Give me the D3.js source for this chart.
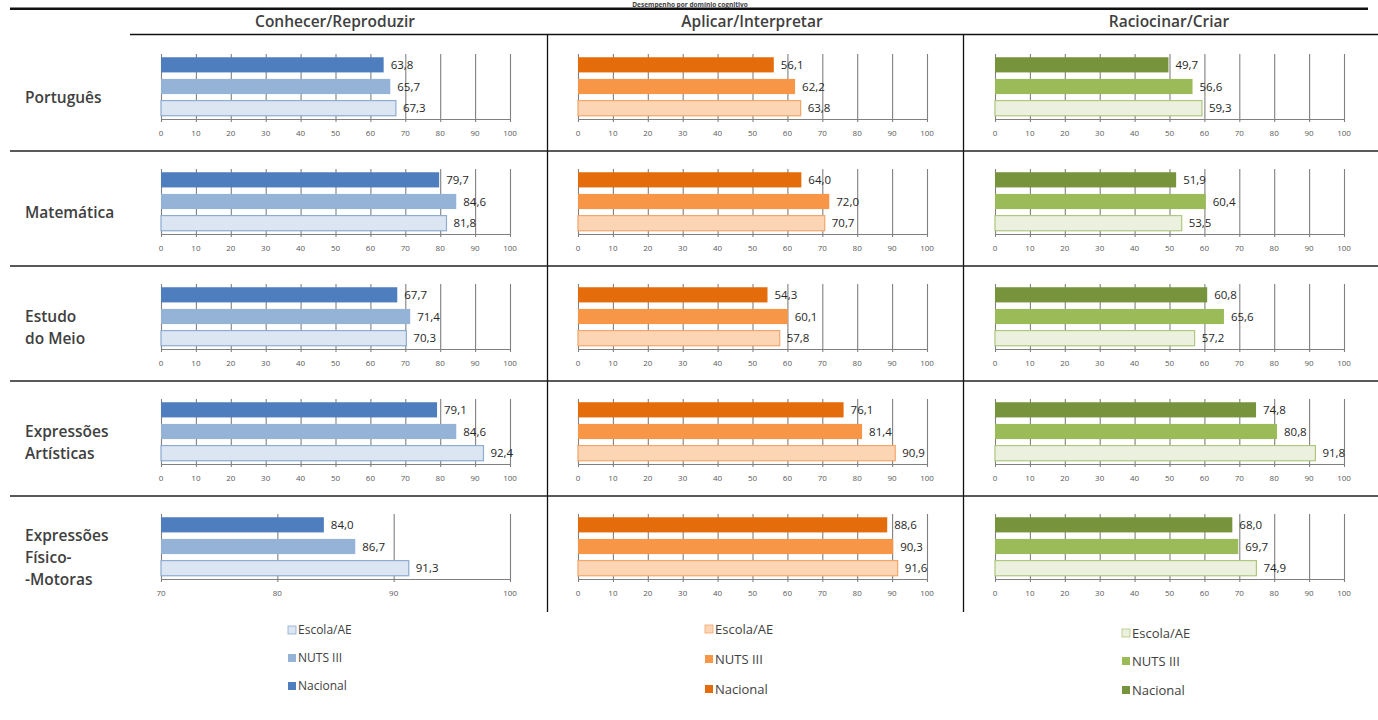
<!DOCTYPE html>
<html>
<head>
<meta charset="utf-8">
<script src="https://cdn.jsdelivr.net/npm/d3@7"></script>
<style>
  html, body { margin: 0; padding: 0; background: #ffffff; }
  svg { display: block; }
</style>
</head>
<body>
<script>
// ---------------- DATA ----------------
const title = "Desempenho por domínio cognitivo";
const domains = ["Conhecer/Reproduzir", "Aplicar/Interpretar", "Raciocinar/Criar"];
const subjects = ["Português", "Matemática", "Estudo do Meio", "Expressões Artísticas", "Expressões Físico-Motoras"];
const subjectLines = [["Português"], ["Matemática"], ["Estudo", "do Meio"], ["Expressões", "Artísticas"], ["Expressões", "Físico-", "-Motoras"]];
const seriesNames = ["Nacional", "NUTS III", "Escola/AE"];
const legendOrder = ["Escola/AE", "NUTS III", "Nacional"];

// values per subject: [Nacional, NUTS III, Escola/AE]
const conhecerValues = [[63.8, 65.7, 67.3], [79.7, 84.6, 81.8], [67.7, 71.4, 70.3], [79.1, 84.6, 92.4], [84.0, 86.7, 91.3]];
const aplicarValues  = [[56.1, 62.2, 63.8], [64.0, 72.0, 70.7], [54.3, 60.1, 57.8], [76.1, 81.4, 90.9], [88.6, 90.3, 91.6]];
const raciocinarValues = [[49.7, 56.6, 59.3], [51.9, 60.4, 53.5], [60.8, 65.6, 57.2], [74.8, 80.8, 91.8], [68.0, 69.7, 74.9]];
const allValues = [conhecerValues, aplicarValues, raciocinarValues];

const ticksFull = [0, 10, 20, 30, 40, 50, 60, 70, 80, 90, 100];
const ticksZoom = [70, 80, 90, 100];
// axis domain minimum per panel [domainIdx][subjectIdx]
const axisMin = [[0, 0, 0, 0, 70], [0, 0, 0, 0, 0], [0, 0, 0, 0, 0]];

// colours per domain: [Nacional, NUTS III, Escola/AE]
const palette = [
  ["#4F7EBF", "#95B3D7", "#DCE6F2"],
  ["#E46C0A", "#F79646", "#FCD5B5"],
  ["#77933C", "#9BBB59", "#EBF1DE"]
];
const borderEscola = ["#8EABD1", "#F2A66A", "#AFC77F"];

// ---------------- LAYOUT ----------------
const W = 1378, H = 720;
const svg = d3.select("body").append("svg").attr("width", W).attr("height", H);
const font = "'Open Sans', 'DejaVu Sans', sans-serif";

const colX0 = [161, 578, 995];
const plotW = 349;
const rowY0 = [0, 115, 230, 345, 460];

// title (sits just above the top rule)
svg.append("text").attr("x", 690).attr("y", 7).attr("text-anchor", "middle")
  .attr("font-family", font).attr("font-weight", "bold").attr("font-size", 6.5)
  .attr("fill", "#404040").text(title);

// thick top line
svg.append("line").attr("x1", 10).attr("x2", 1368).attr("y1", 8.8).attr("y2", 8.8)
  .attr("stroke", "#111").attr("stroke-width", 2.5);

// column headers
domains.forEach((d, i) => {
  svg.append("text").attr("x", colX0[i] + 174).attr("y", 27).attr("text-anchor", "middle")
    .attr("font-family", font).attr("font-weight", 600).attr("font-size", 15.5)
    .attr("fill", "#404040").text(d);
});
svg.append("line").attr("x1", 130).attr("x2", W).attr("y1", 34.5).attr("y2", 34.5)
  .attr("stroke", "#111").attr("stroke-width", 1.3);

// vertical dividers
[547.5, 963.5].forEach(x => {
  svg.append("line").attr("x1", x).attr("x2", x).attr("y1", 34).attr("y2", 612)
    .attr("stroke", "#111").attr("stroke-width", 1.3);
});

// row separators
[151, 266, 381, 496].forEach(y => {
  svg.append("line").attr("x1", 10).attr("x2", W).attr("y1", y).attr("y2", y)
    .attr("stroke", "#222").attr("stroke-width", 1.3);
});

// row labels
subjectLines.forEach((lines, r) => {
  const cy = rowY0[r] + 98;
  const lh = 22;
  const start = cy - (lines.length - 1) * lh / 2;
  lines.forEach((ln, k) => {
    svg.append("text").attr("x", 25).attr("y", start + k * lh).attr("dy", "0.35em")
      .attr("font-family", font).attr("font-weight", 600).attr("font-size", 15.5)
      .attr("fill", "#404040").text(ln);
  });
});

// panels
const fmt = v => d3.format(".1f")(v).replace(".", ",");
domains.forEach((dom, c) => {
  subjects.forEach((sub, r) => {
    const vals = allValues[c][r];
    const lo = axisMin[c][r];
    const ticks = lo === 0 ? ticksFull : ticksZoom;
    const x = d3.scaleLinear().domain([lo, 100]).range([colX0[c], colX0[c] + plotW]);
    const top = rowY0[r] + 54, axisY = rowY0[r] + 119;
    const y = d3.scaleBand().domain(seriesNames).range([top, axisY]).paddingInner(0.3).paddingOuter(0.15);
    const g = svg.append("g");

    // gridlines
    g.selectAll("line.grid").data(ticks).enter().append("line")
      .attr("x1", d => x(d) + 0.5).attr("x2", d => x(d) + 0.5)
      .attr("y1", top).attr("y2", axisY + 3)
      .attr("stroke", "#808080").attr("stroke-width", 1.1);

    // bars
    g.selectAll("rect").data(seriesNames).enter().append("rect")
      .attr("x", x(lo)).attr("y", d => y(d))
      .attr("width", (d, i) => x(vals[i]) - x(lo))
      .attr("height", y.bandwidth())
      .attr("fill", (d, i) => palette[c][i])
      .attr("stroke", (d, i) => i === 2 ? borderEscola[c] : "none")
      .attr("stroke-width", 1.2);

    // axis line
    g.append("line").attr("x1", x(lo)).attr("x2", x(100) + 1).attr("y1", axisY + 0.5).attr("y2", axisY + 0.5)
      .attr("stroke", "#808080").attr("stroke-width", 1.2);

    // tick labels
    g.selectAll("text.tick").data(ticks).enter().append("text")
      .attr("x", d => x(d)).attr("y", axisY + 17).attr("text-anchor", "middle")
      .attr("font-family", font).attr("font-size", 8).attr("fill", "#595959")
      .text(d => d);

    // value labels
    g.selectAll("text.val").data(seriesNames).enter().append("text")
      .attr("x", (d, i) => x(vals[i]) + 7).attr("y", d => y(d) + y.bandwidth() / 2).attr("dy", "0.35em")
      .attr("font-family", font).attr("font-size", 11.5).attr("fill", "#262626")
      .text((d, i) => fmt(vals[i]));
  });
});

// legends
const legX = [288, 705, 1122];
const legY = [[630, 658, 686], [629, 659, 689], [633, 661, 690]];
const legSize = [12, 13, 13];
domains.forEach((dom, c) => {
  legendOrder.forEach((name, k) => {
    const si = seriesNames.indexOf(name);
    svg.append("rect").attr("x", legX[c]).attr("y", legY[c][k] - 4).attr("width", 8).attr("height", 8)
      .attr("fill", palette[c][si]).attr("stroke", si === 2 ? borderEscola[c] : "none").attr("stroke-width", 0.8);
    svg.append("text").attr("x", legX[c] + 10).attr("y", legY[c][k]).attr("dy", "0.35em")
      .attr("font-family", font).attr("font-size", legSize[c]).attr("fill", "#404040")
      .text(name);
  });
});
</script>
</body>
</html>
